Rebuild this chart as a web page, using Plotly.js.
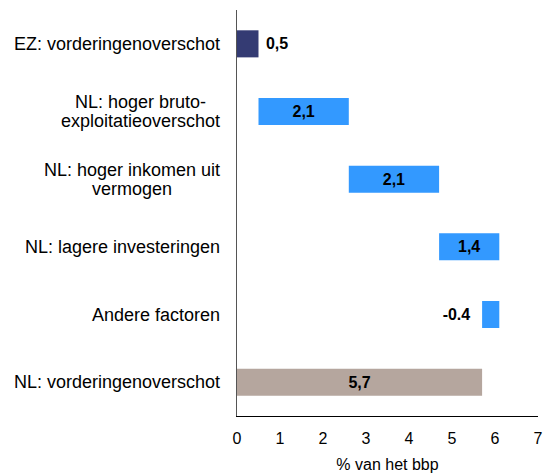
<!DOCTYPE html>
<html><head><meta charset="utf-8">
<script src="https://cdn.plot.ly/plotly-3.0.1.min.js"></script>
<style>body{margin:0;background:#fff}#c{width:545px;height:475px}</style>
</head><body><div id="c"></div>
<script>
var categories = ["EZ: vorderingenoverschot", "NL: hoger bruto-<br>exploitatieoverschot", "NL: hoger inkomen uit<br>vermogen", "NL: lagere investeringen", "Andere factoren", "NL: vorderingenoverschot"];
var values = [0.5, 2.1, 2.1, 1.4, -0.4, 5.7];
var bases = [0, 0.5, 2.6, 4.7, 6.1, 0];
var valueLabels = ["0,5", "2,1", "2,1", "1,4", "-0.4", "5,7"];
var colors = ["#343B73", "#3399FF", "#3399FF", "#3399FF", "#3399FF", "#B5A69E"];
var textPos = ["outside", "inside", "inside", "inside", "outside", "inside"];
var xTicks = [0, 1, 2, 3, 4, 5, 6, 7];

var font = "Liberation Sans, Arial, sans-serif";
var shown = valueLabels.map(function(t, i){
  if (textPos[i] !== "outside") return t;
  return values[i] >= 0 ? "\u00a0" + t : t + "\u00a0\u00a0";
});
var trace = {
  type: "bar", orientation: "h",
  y: categories, x: values, base: bases,
  marker: {color: colors, line: {width: 0}},
  width: 0.4,
  text: shown, textposition: textPos,
  textfont: {family: font, size: 16, color: "#000", weight: "bold"},
  insidetextanchor: "middle",
  constraintext: "none", cliponaxis: false,
  hoverinfo: "none"
};
var ctx = document.createElement("canvas").getContext("2d");
ctx.font = "18px 'Liberation Sans'";
var annotations = [];
categories.forEach(function(c){
  var lines = c.split("<br>");
  var lh = 19;
  var w = lines.map(function(l){ return ctx.measureText(l).width; });
  var mx = Math.max.apply(null, w);
  lines.forEach(function(line, k){
    annotations.push({xref: "paper", yref: "y", x: 0, y: c, text: line, showarrow: false,
      xanchor: "right", yanchor: "middle", xshift: -15 - (mx - w[k]) / 2,
      yshift: ((lines.length - 1) / 2 - k) * lh,
      font: {family: font, size: 18, color: "#000"}});
  });
});
var layout = {
  width: 545, height: 475,
  margin: {l: 237, r: 7, t: 10, b: 59},
  paper_bgcolor: "#fff", plot_bgcolor: "#fff",
  showlegend: false,
  xaxis: {range: [0, 7], tickvals: xTicks, ticktext: xTicks.map(String),
    showgrid: false, zeroline: false, showline: true, linecolor: "#000", linewidth: 1,
    ticks: "", ticklabelstandoff: 8,
    tickfont: {family: font, size: 16, color: "#000"},
    title: {text: "% van het bbp", font: {family: font, size: 16, color: "#000"}, standoff: 12}},
  yaxis: {autorange: "reversed", showticklabels: false, showgrid: false, zeroline: false,
    showline: true, linecolor: "#555", linewidth: 1, ticks: ""},
  annotations: annotations
};
Plotly.newPlot("c", [trace], layout, {displayModeBar: false, staticPlot: true});
</script></body></html>
